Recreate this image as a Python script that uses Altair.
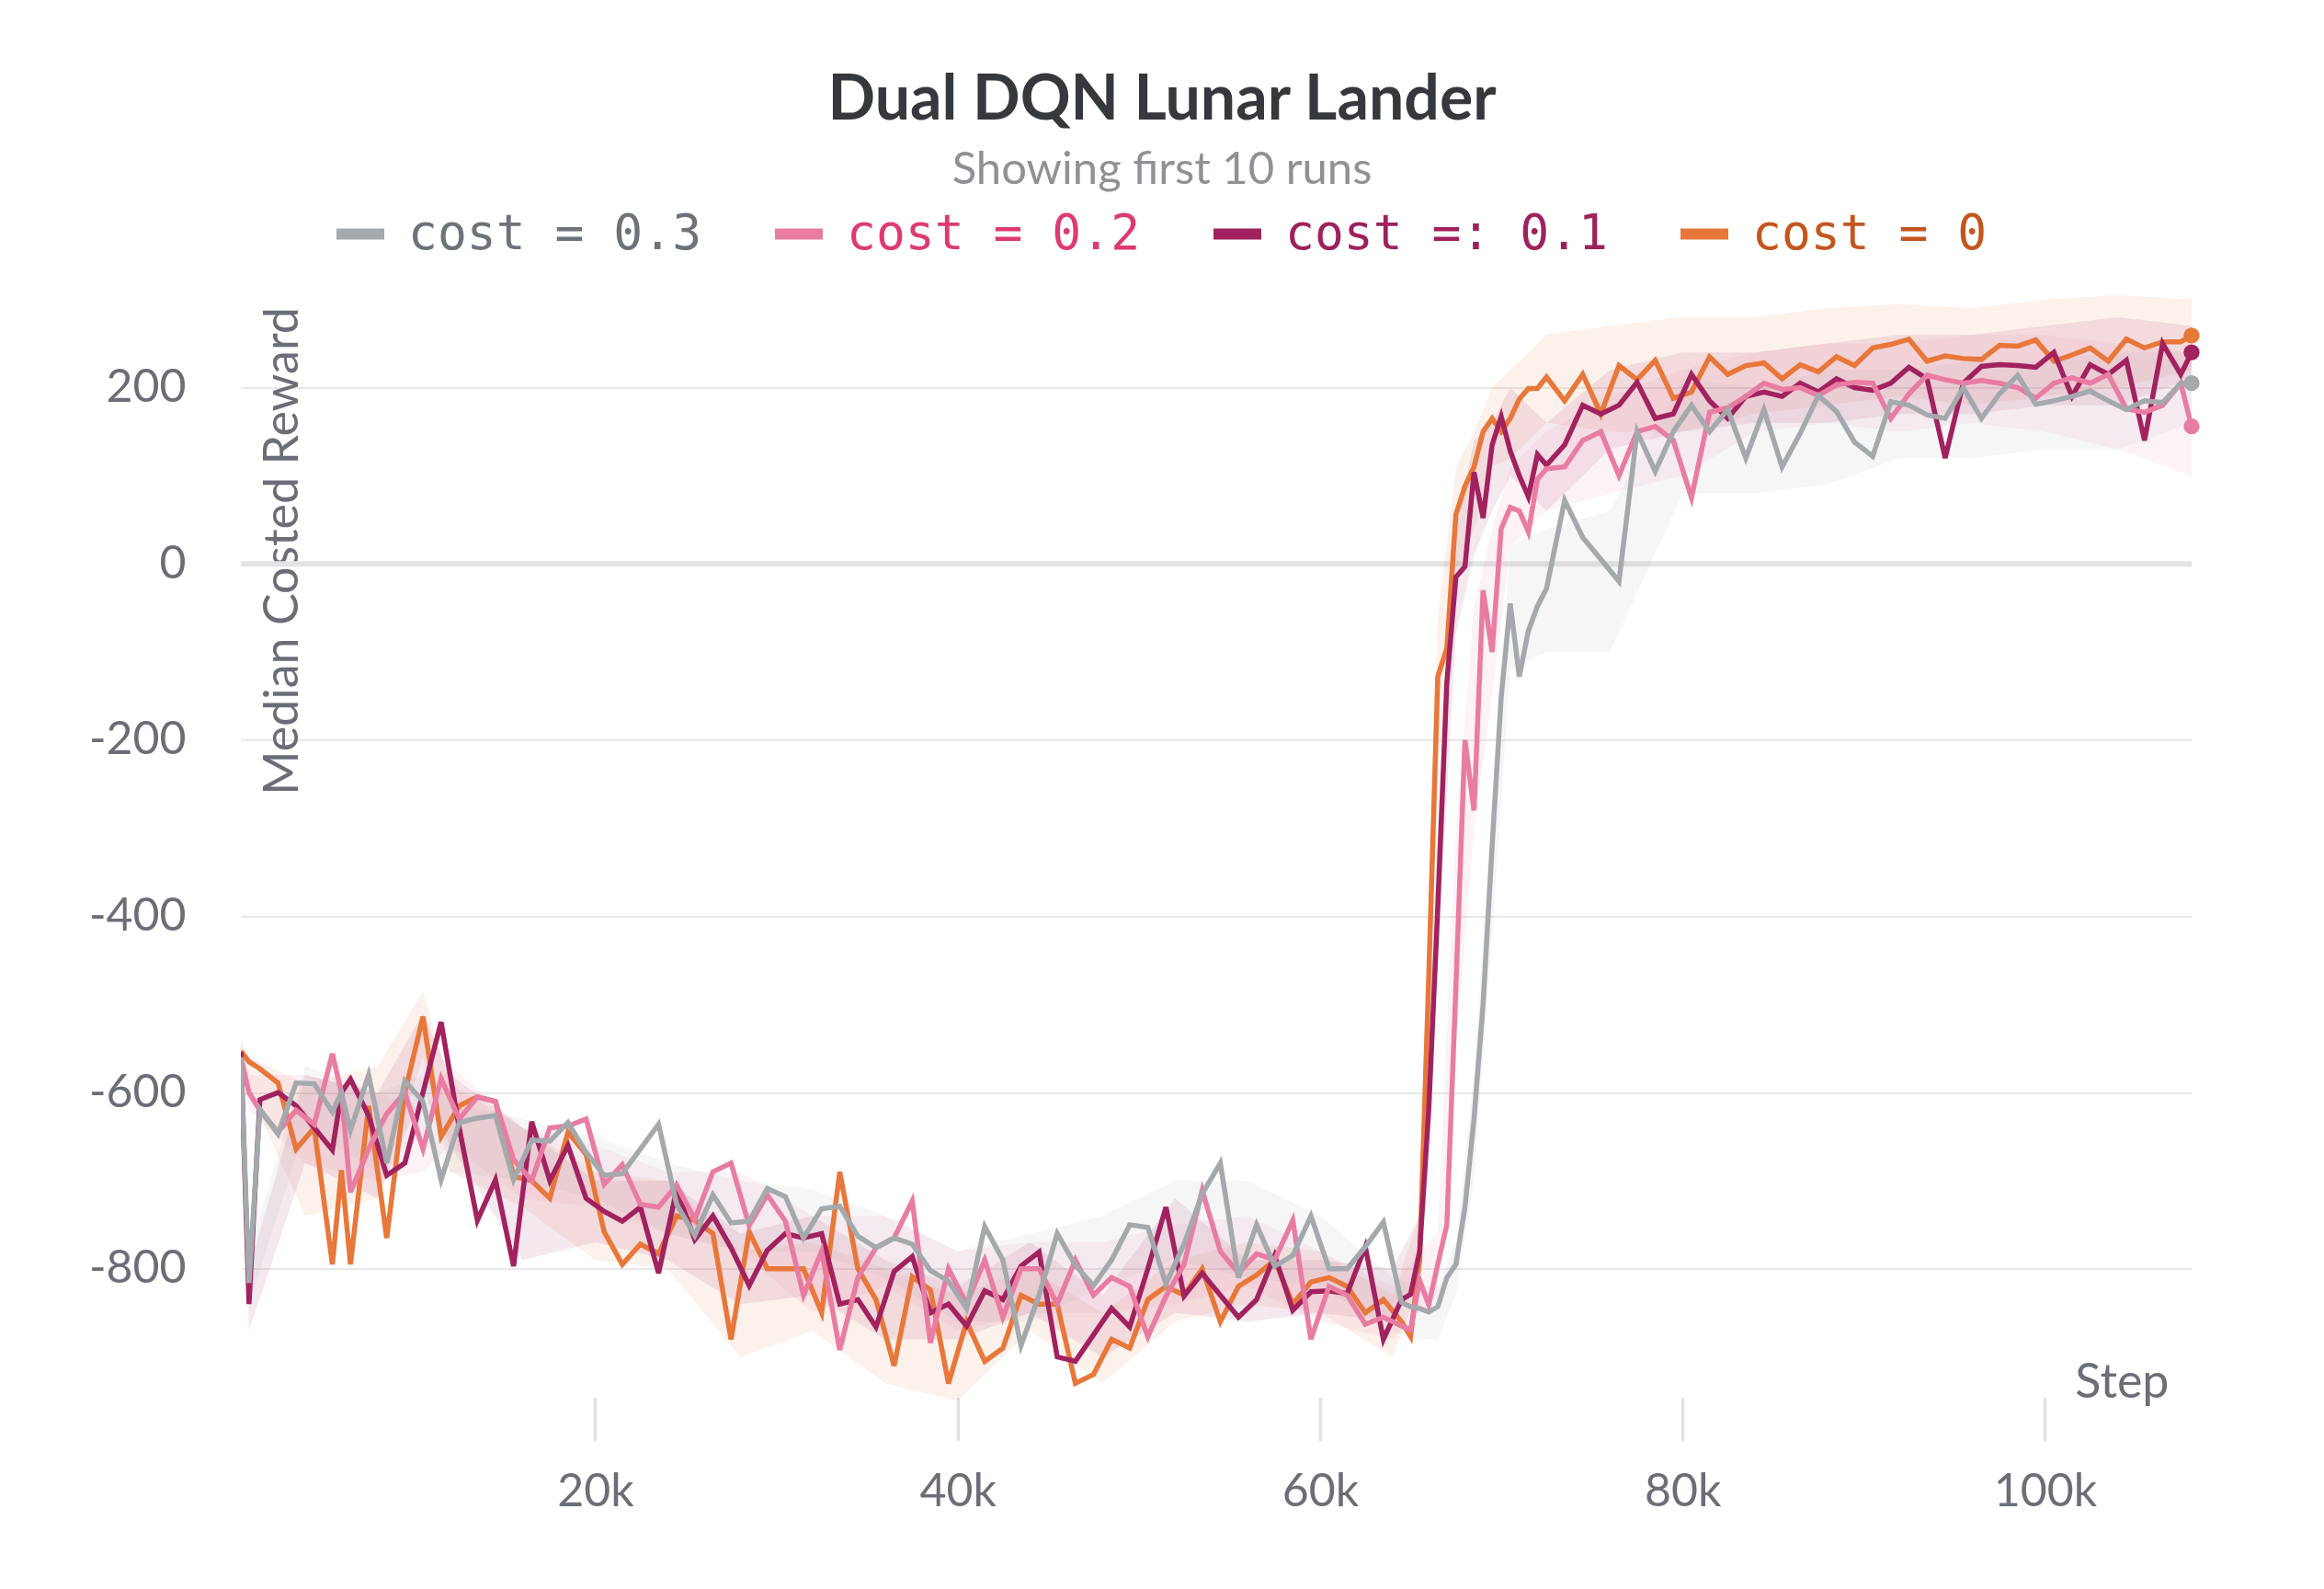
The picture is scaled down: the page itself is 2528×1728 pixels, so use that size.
import altair as alt
import pandas as pd

series_names = ["cost = 0.3", "cost = 0.2", "cost =: 0.1", "cost = 0"]
line_colors = ["#a3a9ac", "#e97ca2", "#a1225f", "#e8773a"]
label_colors = ["#6c737a", "#de3a72", "#9e215d", "#c4561d"]
draw_order = ["cost = 0", "cost =: 0.1", "cost = 0.2", "cost = 0.3"]

steps = [450, 900,
         1500, 2500, 3500, 4500, 5500, 6000, 6500, 7500, 8500, 9500, 10500,
         11500, 12500, 13500, 14500, 15500, 16500, 17500, 18500, 19500, 20500,
         21500, 22500, 23500, 24500, 25500, 26500, 27500, 28500, 29500, 30500,
         31500, 32500, 33500, 34500, 35500, 36500, 37500, 38500, 39500, 40500,
         41500, 42500, 43500, 44500, 45500, 46500, 47500, 48500, 49500, 50500,
         51500, 52500, 53500, 54500, 55500, 56500, 57500, 58500, 59500, 60500,
         61500, 62500, 63500, 64500,
         65000, 65500, 66000, 66500, 67000, 67500, 68000, 68500, 69000, 69500,
         70000, 70500, 71000, 71500, 72000,
         72500, 73500, 74500, 75500, 76500, 77500, 78500, 79500, 80500, 81500,
         82500, 83500, 84500, 85500, 86500, 87500, 88500, 89500, 90500, 91500,
         92500, 93500, 94500, 95500, 96500, 97500, 98500, 99500, 100500, 101500,
         102500, 103500, 104500, 105500, 106500, 107500,
         108100]

cost_03 = [-560, -816,
           -619, -647, -589, -590, -622, -600, -643, -580, -680, -587, -610,
           -699, -634, -629, -626, -699, -654, -655, -634, -668, -694,
           -692, -664, -636, -727, -762, -716, -748, -746, -709, -718,
           -765, -732, -729, -763, -776, -765, -772, -802, -814, -845,
           -752, -790, -887, -830, -760, -796, -819, -790, -750, -753,
           -817, -772, -715, -680, -810, -750, -797, -785, -740, -800,
           -800, -775, -747, -838,
           -843, -845, -849, -843, -810, -795, -730, -630, -500, -320,
           -151, -45, -128, -76, -48,
           -28, 72, 30, 5, -20, 150, 105, 150, 180, 150,
           175, 120, 175, 110, 148, 191, 173, 138, 122, 184,
           180, 169, 165, 200, 165, 193, 214, 181, 185, 190,
           196, 185, 175, 185, 183, 205,
           205]

cost_02 = [-560, -600,
           -620, -645, -620, -636, -556, -600, -713, -664, -624, -600, -664,
           -584, -630, -605, -610, -676, -700, -640, -638, -630, -704,
           -682, -727, -730, -705, -744, -690, -680, -751, -716, -746,
           -830, -780, -892, -810, -776, -765, -723, -884, -800, -840,
           -790, -855, -800, -800, -840, -790, -830, -810, -820, -877,
           -831, -795, -711, -780, -805, -783, -790, -745, -880, -820,
           -830, -863, -855, -865,
           -869, -813, -841, -795, -750, -480, -200, -280, -30, -100,
           40, 64, 60, 36, 96,
           108, 110, 140, 150, 100, 150, 156, 140, 75, 172,
           177, 190, 205, 198, 200, 191, 203, 206, 205, 165,
           193, 214, 209, 205, 208, 205, 200, 188, 205, 211,
           205, 215, 176, 172, 180, 205,
           156]

cost_01 = [-554, -840,
           -608, -600, -615, -640, -665, -600, -585, -626, -694, -680, -600,
           -520, -640, -745, -699, -797, -633, -700, -660, -720, -735,
           -746, -730, -805, -710, -767, -740, -776, -819, -779, -760,
           -765, -760, -840, -835, -866, -803, -786, -850, -840, -865,
           -825, -835, -797, -781, -900, -905, -875, -845, -866, -800,
           -730, -831, -805, -830, -855, -835, -785, -847, -826, -825,
           -828, -775, -880, -835,
           -829, -780, -620, -390, -135, -15, -3, 104, 52, 135,
           167, 128, 100, 76, 124,
           112, 135, 180, 170, 180, 206, 165, 170, 215, 185,
           165, 190, 195, 190, 205, 195, 210, 200, 197, 205,
           223, 210, 120, 205, 224, 226, 225, 223, 240, 190,
           226, 215, 231, 140, 250, 215,
           240]

cost_00 = [-553, -565,
           -573, -589, -664, -640, -795, -688, -795, -615, -765, -600, -514,
           -650, -615, -605, -610, -695, -700, -720, -645, -670, -758,
           -795, -772, -783, -740, -745, -760, -880, -758, -800, -800,
           -800, -850, -690, -800, -835, -910, -809, -824, -930, -860,
           -905, -890, -830, -840, -840, -930, -920, -880, -890, -835,
           -820, -830, -800, -860, -820, -807, -790, -840, -815, -810,
           -820, -850, -835, -860,
           -877, -790, -470, -128, -96, 56, 88, 110, 150, 165,
           150, 165, 187, 199, 199,
           212, 185, 215, 170, 225, 209, 231, 188, 195, 235,
           215, 225, 228, 210, 226, 218, 235, 225, 245, 249,
           255, 230, 236, 233, 232, 248, 247, 254, 230, 237,
           245, 230, 255, 245, 252, 252,
           259]

band_steps = [450, 900, 4000, 8000, 10500, 12000, 16000, 20000, 24000, 28000,
              32000, 36000, 40000, 44000, 48000, 52000, 56000, 60000, 64000, 65500,
              66500, 67500, 68500, 69500, 70500, 72500, 76000, 80000, 84000, 88000,
              92000, 96000, 100000, 104000, 108100]

cost_03_lo = [-575, -840, -640, -690, -650, -690, -700, -720, -760, -780,
              -780, -810, -860, -860, -820, -790, -810, -820, -870, -880,
              -880, -830, -700, -420, -120, -100, -100, 80, 80, 90,
              120, 120, 130, 130, 160]
cost_03_hi = [-545, -780, -570, -600, -580, -610, -630, -650, -680, -700,
              -710, -740, -780, -760, -740, -700, -700, -740, -810, -820,
              -820, -770, -580, -270, 20, 40, 60, 210, 200, 220,
              220, 230, 230, 240, 240]
cost_02_lo = [-575, -620, -680, -700, -690, -660, -720, -730, -760, -780,
              -850, -820, -870, -850, -850, -840, -820, -860, -880, -850,
              -830, -550, -300, -150, 20, 60, 80, 100, 150, 160,
              150, 160, 150, 130, 100]
cost_02_hi = [-545, -580, -580, -600, -620, -570, -640, -660, -690, -690,
              -740, -740, -780, -770, -770, -750, -740, -780, -820, -780,
              -760, -300, -50, 40, 110, 150, 190, 220, 240, 250,
              250, 260, 260, 250, 240]
cost_01_lo = [-570, -870, -680, -720, -600, -660, -790, -770, -790, -840,
              -830, -880, -880, -850, -900, -850, -860, -850, -860, -810,
              -450, -80, 10, 60, 100, 60, 130, 150, 160, 160,
              170, 170, 180, 180, 210]
cost_01_hi = [-540, -800, -580, -600, -510, -580, -640, -700, -700, -760,
              -740, -790, -820, -770, -830, -720, -790, -790, -800, -740,
              -300, 40, 140, 160, 200, 160, 220, 240, 240, 250,
              260, 260, 270, 280, 270]
cost_00_lo = [-570, -600, -740, -720, -560, -690, -730, -790, -800, -900,
              -870, -930, -950, -870, -930, -860, -840, -850, -900, -820,
              -250, -10, 40, 110, 120, 160, 150, 150, 170, 180,
              190, 180, 190, 200, 220]
cost_00_hi = [-540, -560, -590, -570, -485, -590, -640, -690, -700, -780,
              -770, -800, -830, -800, -850, -790, -770, -780, -830, -740,
              -60, 110, 150, 200, 220, 260, 270, 280, 280, 290,
              295, 290, 300, 305, 300]

y_ticks = [-800, -600, -400, -200, 0, 200]
x_ticks = [20000, 40000, 60000, 80000, 100000]

values_by_run = dict(zip(series_names, [cost_03, cost_02, cost_01, cost_00]))
bands_by_run = {
    "cost = 0.3": (cost_03_lo, cost_03_hi),
    "cost = 0.2": (cost_02_lo, cost_02_hi),
    "cost =: 0.1": (cost_01_lo, cost_01_hi),
    "cost = 0": (cost_00_lo, cost_00_hi),
}

line_rows, band_rows = [], []
for name in series_names:
    for s, v in zip(steps, values_by_run[name]):
        line_rows.append({"step": s, "value": v, "run": name})
    lo, hi = bands_by_run[name]
    for s, a, b in zip(band_steps, lo, hi):
        band_rows.append({"step": s, "lo": a, "hi": b, "run": name})
lines_df = pd.DataFrame(line_rows)
bands_df = pd.DataFrame(band_rows)
last_df = lines_df.groupby("run", sort=False).tail(1)
zero_df = pd.DataFrame({"y": [0]})

label_expr = ""
for n, c in zip(series_names[:-1], label_colors[:-1]):
    label_expr += f"datum.value === '{n}' ? '{c}' : "
label_expr += f"'{label_colors[-1]}'"

font = "Lato"
tick_color = "#6b6e78"

xscale = alt.Scale(domain=[450, 108100], nice=False, zero=False)
yscale = alt.Scale(domain=[-975, 320], nice=False, zero=False)

legend = alt.Legend(
    title=None, orient="none", legendX=98, legendY=-84, direction="horizontal",
    columns=4, symbolType="stroke", symbolSize=2704, symbolStrokeWidth=12,
    symbolOpacity=1, labelFont="DejaVu Sans Mono", labelFontSize=53,
    labelOffset=20, columnPadding=55, labelLimit=2000,
    labelColor=alt.ExprRef(expr=label_expr),
)
color = alt.Color("run:N", scale=alt.Scale(domain=series_names, range=line_colors), legend=legend)

x_axis = alt.Axis(values=x_ticks, labelExpr="datum.value / 1000 + 'k'", grid=False, domain=False,
                  tickColor="#e2e2e2", tickWidth=3.5, tickSize=47, offset=-28,
                  labelFont=font, labelFontSize=50, labelColor=tick_color, labelPadding=31,
                  title="Step", titleFont=font, titleFontSize=52, titleFontWeight="normal",
                  titleColor=tick_color, titleX=2097, titleY=0, titleAlign="right",
                  titleBaseline="alphabetic")
y_axis = alt.Axis(values=y_ticks, labelExpr="toString(datum.value)", grid=True,
                  gridColor="#e8e8e8", gridWidth=2, domain=False,
                  ticks=False, tickSize=0, labelPadding=60, labelFont=font, labelFontSize=50,
                  labelColor=tick_color, title="Median Costed Reward", titleFont=font,
                  titleFontSize=52, titleFontWeight="normal", titleColor=tick_color,
                  titleX=45, titleY=27, titleAngle=270, titleAlign="right", titleBaseline="middle")

zero_rule = alt.Chart(zero_df).mark_rule(color="#e4e4e6", strokeWidth=6).encode(
    y=alt.Y("y:Q", scale=yscale, axis=y_axis))

layers = [zero_rule]
for name in draw_order:
    layers.append(
        alt.Chart(bands_df).transform_filter(alt.datum.run == name)
        .mark_area(opacity=0.1, clip=True)
        .encode(x=alt.X("step:Q", scale=xscale, axis=x_axis),
                y=alt.Y("lo:Q", scale=yscale), y2="hi:Q", color=color)
    )
for name in draw_order:
    layers.append(
        alt.Chart(lines_df).transform_filter(alt.datum.run == name)
        .mark_line(strokeWidth=5.5, clip=True)
        .encode(x=alt.X("step:Q", scale=xscale), y=alt.Y("value:Q", scale=yscale), color=color)
    )
layers.append(
    alt.Chart(last_df).mark_circle(size=300, opacity=1)
    .encode(x=alt.X("step:Q", scale=xscale), y=alt.Y("value:Q", scale=yscale), color=color)
)

chart = alt.layer(*layers).properties(
    width=2122, height=1241,
    autosize=alt.AutoSizeParams(type="none"),
    padding={"left": 254, "top": 298.5, "right": 136, "bottom": 172.5},
    title=alt.TitleParams(text="Dual DQN Lunar Lander", subtitle="Showing first 10 runs",
                          font=font, fontSize=68, fontWeight="bold", color="#35393e",
                          subtitleFont=font, subtitleFontSize=49, subtitleColor="#8e9195",
                          anchor="middle", frame="group", dx=-59, offset=13, subtitlePadding=17),
).configure(background="white", view=alt.ViewConfig(stroke=None))

chart.save("out.html", embed_options={"renderer": "svg", "actions": False})
